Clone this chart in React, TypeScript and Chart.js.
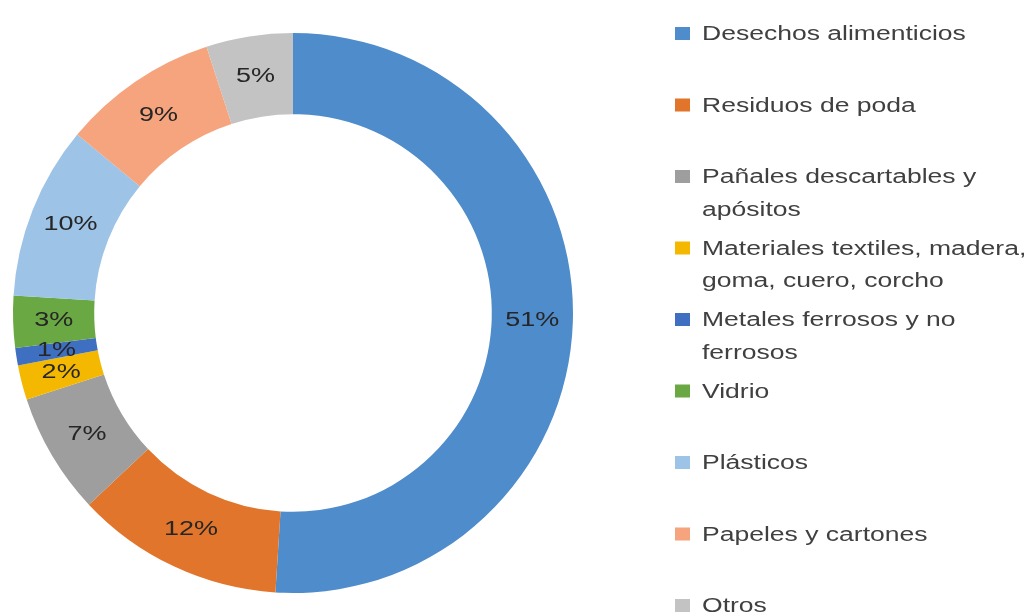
import React, { useEffect, useRef } from "react";
import { Chart, registerables } from "chart.js";

Chart.register(...registerables);

const categories: string[][] = [
  ["Desechos alimenticios"],
  ["Residuos de poda"],
  ["Pañales descartables y", "apósitos"],
  ["Materiales textiles, madera,", "goma, cuero, corcho"],
  ["Metales ferrosos y no", "ferrosos"],
  ["Vidrio"],
  ["Plásticos"],
  ["Papeles y cartones"],
  ["Otros"],
];

const values = [51, 12, 7, 2, 1, 3, 10, 9, 5];

const colors = [
  "#4F8CCB",
  "#E1752C",
  "#9E9E9E",
  "#F5B800",
  "#3F6FC0",
  "#6AA843",
  "#9DC3E6",
  "#F6A47E",
  "#C3C3C3",
];

const W = 1027;
const H = 615;

const sliceLabels = {
  id: "sliceLabels",
  afterDatasetsDraw(chart: any) {
    const ctx = chart.ctx as CanvasRenderingContext2D;
    const meta = chart.getDatasetMeta(0);
    ctx.save();
    ctx.font = '20px "Liberation Sans", Arial, sans-serif';
    ctx.fillStyle = "#262626";
    ctx.textAlign = "center";
    ctx.textBaseline = "middle";
    meta.data.forEach((arc: any, i: number) => {
      const p = arc.getCenterPoint();
      ctx.save();
      ctx.translate(p.x, p.y);
      ctx.scale(1.35, 1);
      ctx.fillText(values[i] + "%", 0, 0);
      ctx.restore();
    });
    ctx.restore();
  },
};

const sideLegend = {
  id: "sideLegend",
  afterDraw(chart: any) {
    const ctx = chart.ctx as CanvasRenderingContext2D;
    const firstBaseline = 40;
    const step = 71.5;
    const lineH = 32.5;
    const textX = 702;
    ctx.save();
    ctx.font = '19.5px "Liberation Sans", Arial, sans-serif';
    ctx.textAlign = "left";
    ctx.textBaseline = "alphabetic";
    categories.forEach((lines, i) => {
      const base = firstBaseline + i * step;
      ctx.fillStyle = colors[i];
      ctx.fillRect(675, base - 13, 15, 13);
      ctx.fillStyle = "#404040";
      lines.forEach((line, j) => {
        ctx.save();
        ctx.translate(textX, base + j * lineH);
        ctx.scale(1.36, 1);
        ctx.fillText(line, 0, 0);
        ctx.restore();
      });
    });
    ctx.restore();
  },
};

export default function App() {
  const ref = useRef<HTMLCanvasElement | null>(null);
  useEffect(() => {
    document.body.style.margin = "0";
    const canvas = ref.current;
    if (!canvas) return;
    const chart = new Chart(canvas, {
      type: "doughnut",
      data: {
        labels: categories.map((l) => l.join(" ")),
        datasets: [
          {
            data: values,
            backgroundColor: colors,
            borderWidth: 0,
          },
        ],
      },
      options: {
        responsive: false,
        animation: false,
        events: [],
        cutout: "71%",
        layout: {
          padding: { left: 13, top: 33, right: W - 573, bottom: H - 593 },
        },
        plugins: {
          legend: { display: false },
          tooltip: { enabled: false },
        },
      },
      plugins: [sliceLabels, sideLegend],
    });
    return () => chart.destroy();
  }, []);
  return (
    <div style={{ position: "absolute", left: 0, top: 0, width: W, height: H, background: "#fff" }}>
      <canvas ref={ref} width={W} height={H} style={{ display: "block" }} />
    </div>
  );
}
